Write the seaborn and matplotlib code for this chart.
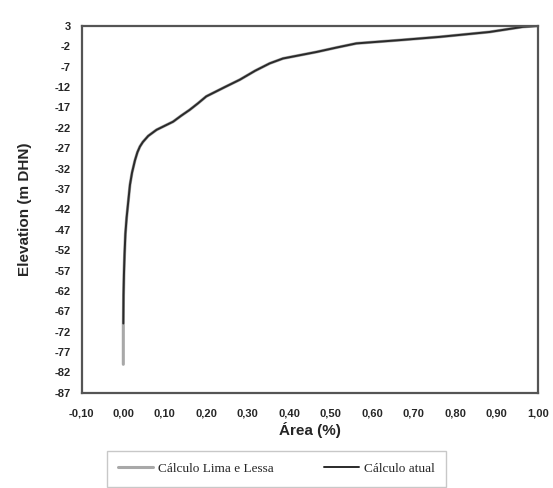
import matplotlib.pyplot as plt
import seaborn as sns
import pandas as pd

# Elevation (m DHN) and cumulative area fraction
elevation = [3, 2.75, 1.5, 0.3, -0.5, -1.3, -2.3, -3.4, -5.0, -6.2, -8, -10.2,
             -12, -14.3, -16, -17.6, -19, -20.5, -22.5, -24, -25.5, -26.6, -28, -30,
             -33, -36, -40, -44, -48, -53, -58, -63, -70, -75, -80]
area = [1.0, 0.963, 0.883, 0.763, 0.666, 0.562, 0.515, 0.466, 0.385, 0.353,
        0.318, 0.281, 0.245, 0.2, 0.18, 0.16, 0.14, 0.12, 0.08, 0.06, 0.047, 0.04,
        0.034, 0.028, 0.021, 0.016, 0.012, 0.008, 0.005, 0.003, 0.0015, 0.0005,
        0.0, 0.0, 0.0]

lima_lessa = pd.DataFrame({'area': area, 'elev': elevation})
atual = lima_lessa[lima_lessa['elev'] >= -70]

xticks = [-0.1, 0.0, 0.1, 0.2, 0.3, 0.4, 0.5, 0.6, 0.7, 0.8, 0.9, 1.0]
yticks = list(range(3, -88, -5))

sns.set_style("white")
plt.rcParams['font.family'] = ['Liberation Sans', 'DejaVu Sans']

fig = plt.figure(figsize=(5.53, 4.88), dpi=100)
ax = fig.add_axes([0.148, 0.195, 0.825, 0.752])

sns.lineplot(data=lima_lessa, x='area', y='elev', ax=ax, sort=False, estimator=None,
             color='#a8a8a8', lw=2.2, label='Cálculo Lima e Lessa')
sns.lineplot(data=atual, x='area', y='elev', ax=ax, sort=False, estimator=None,
             color='#2a2a2a', lw=1.4, label='Cálculo atual')

ax.set_xlim(-0.1, 1.0)
ax.set_ylim(-87, 3)
ax.set_xticks(xticks)
ax.set_xticklabels([f'{v:.2f}'.replace('.', ',') for v in xticks], fontsize=8, fontweight='bold')
ax.set_yticks(yticks)
ax.set_yticklabels([str(v) for v in yticks], fontsize=8, fontweight='bold')
ax.tick_params(axis='both', length=3, width=0.8, color='#555555')
ax.tick_params(axis='x', pad=8)
ax.tick_params(axis='y', pad=5)

for s in ax.spines.values():
    s.set_color('#555555')
    s.set_linewidth(1.6)

ax.set_xlabel('Área (%)', fontsize=11, fontweight='bold', labelpad=3)
ax.set_ylabel('Elevation (m DHN)', fontsize=11, fontweight='bold', labelpad=16)

leg = ax.legend(loc='upper left', bbox_to_anchor=(100 / 553, 1 - 449 / 488, 353 / 553, 0.01),
                bbox_transform=fig.transFigure, ncol=2, mode='expand', frameon=True,
                fancybox=False, prop={'family': 'Liberation Serif', 'size': 9.5},
                handlelength=2.6, handletextpad=0.4, borderpad=0.9, columnspacing=1.0,
                edgecolor='#bbbbbb')

fig.savefig('out.png', dpi=100)
